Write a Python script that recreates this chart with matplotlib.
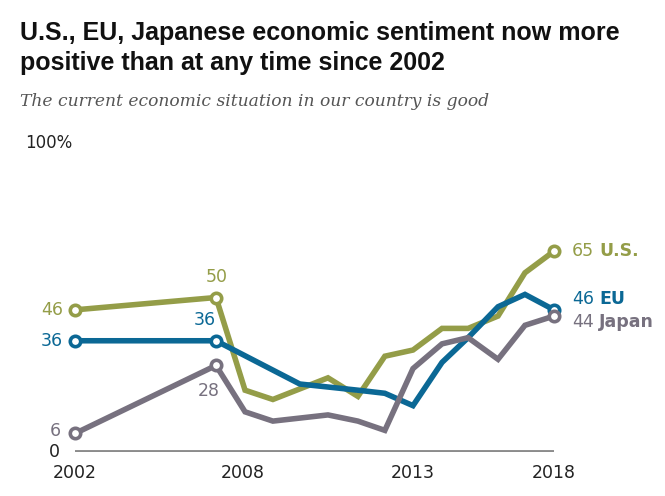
import matplotlib
matplotlib.use("Agg")
import numpy as np
from matplotlib import pyplot as plt

# survey positions (fractional years, as placed on the original time axis)
us_x = [2002.0, 2006.71, 2007.68, 2008.61, 2010.45, 2011.45, 2012.35, 2013.29, 2014.26, 2015.13, 2016.13, 2017.03, 2018.0]
us_y = [46, 50, 20, 17, 24, 18, 31, 33, 40, 40, 44, 58, 65]

eu_x = [2002.0, 2006.71, 2009.51, 2011.45, 2012.35, 2013.29, 2014.26, 2015.13, 2016.13, 2017.03, 2018.0]
eu_y = [36, 36, 22, 20, 19, 15, 29, 37, 47, 51, 46]

jp_x = [2002.0, 2006.71, 2007.68, 2008.61, 2010.45, 2011.45, 2012.35, 2013.29, 2014.26, 2015.13, 2016.13, 2017.03, 2018.0]
jp_y = [6, 28, 13, 10, 12, 10, 7, 27, 35, 37, 30, 41, 44]

tick_pos = [2002.0, 2007.62, 2013.29, 2018.0]
tick_labels = ["2002", "2008", "2013", "2018"]

names = ["U.S.", "EU", "Japan"]
colors = ["#949d48", "#0b6895", "#77717f"]

W, H = 665, 496
fig = plt.figure(figsize=(W / 100, H / 100), dpi=100)
ax = fig.add_axes([75 / W, (H - 452) / H, (554 - 75) / W, (452 - 143) / H])
ax.set_xlim(2002, 2018)
ax.set_ylim(0, 100)
for s in ax.spines.values():
    s.set_visible(False)
ax.set_yticks([])
ax.set_xticks(tick_pos, tick_labels)
ax.tick_params(axis="x", length=0, pad=9, labelsize=12.5, labelcolor="#222222")

ax.hlines(0, 2002, 2018, color="#8c8c8c", lw=2.8, zorder=1)

series = [(us_x, us_y), (eu_x, eu_y), (jp_x, jp_y)]
for (xs, ys), c in zip(series, colors):
    ax.plot(xs, ys, color=c, lw=4, solid_joinstyle="miter", zorder=3,
            marker="o", markevery=[0, 1, len(xs) - 1], ms=7.5,
            mfc="white", mec=c, mew=2.6, clip_on=False)

lab = dict(fontsize=12.5, family="DejaVu Sans")
# start labels
ax.annotate(str(us_y[0]), (us_x[0], us_y[0]), xytext=(-12, 0), textcoords="offset pixels",
            ha="right", va="center", color=colors[0], **lab)
ax.annotate(str(eu_y[0]), (eu_x[0], eu_y[0]), xytext=(-12, 0), textcoords="offset pixels",
            ha="right", va="center", color=colors[1], **lab)
ax.annotate(str(jp_y[0]), (jp_x[0], jp_y[0]), xytext=(-14, 2), textcoords="offset pixels",
            ha="right", va="center", color=colors[2], **lab)
ax.annotate("0", (2002, 0), xytext=(-15, 0), textcoords="offset pixels",
            ha="right", va="center", color="#222222", **lab)
ax.annotate("100%", (2002, 100), xytext=(-50, 0), textcoords="offset pixels",
            ha="left", va="center", color="#222222", fontsize=12, family="DejaVu Sans")

# 2007 labels
ax.annotate(str(us_y[1]), (us_x[1], us_y[1]), xytext=(1, 21), textcoords="offset pixels",
            ha="center", va="center", color=colors[0], **lab)
ax.annotate(str(eu_y[1]), (eu_x[1], eu_y[1]), xytext=(-11, 21), textcoords="offset pixels",
            ha="center", va="center", color=colors[1], **lab)
ax.annotate(str(jp_y[1]), (jp_x[1], jp_y[1]), xytext=(-7, -26), textcoords="offset pixels",
            ha="center", va="center", color=colors[2], **lab)

# end labels
end_dy = [0, 11, -6]
for (xs, ys), c, n, dy in zip(series, colors, names, end_dy):
    t = ax.annotate(str(ys[-1]), (xs[-1], ys[-1]), xytext=(18, dy), textcoords="offset pixels",
                    ha="left", va="center", color=c, **lab)
    ax.annotate(n, xy=(1, 0.5), xycoords=t, xytext=(5, 0), textcoords="offset pixels",
                ha="left", va="center", color=c, fontsize=12.5, fontweight="bold",
                family="DejaVu Sans")

fig.text(20 / W, 1 - 21 / H,
         "U.S., EU, Japanese economic sentiment now more\npositive than at any time since 2002",
         ha="left", va="top", fontsize=18, fontweight="bold", color="#111111",
         family=["Liberation Sans", "DejaVu Sans"], linespacing=1.3)
fig.text(20 / W, 1 - 101 / H, "The current economic situation in our country is good",
         ha="left", va="center", fontsize=12.3, style="italic", color="#555555",
         family=["DejaVu Serif"])

fig.savefig("out.png", dpi=100)
